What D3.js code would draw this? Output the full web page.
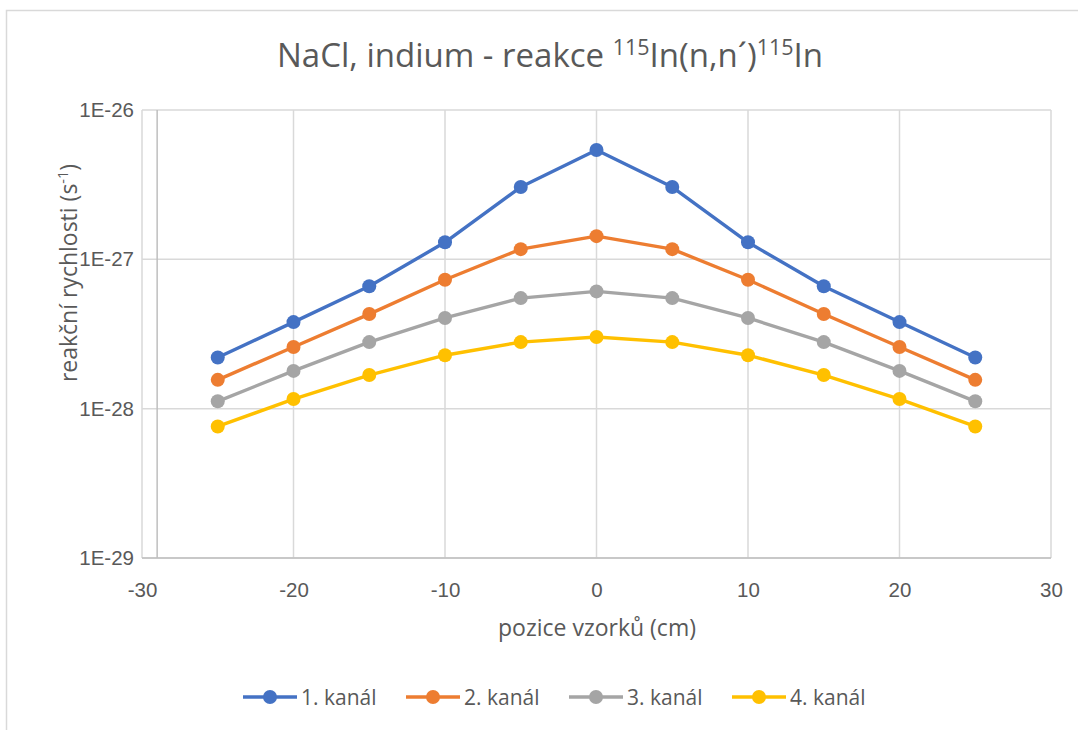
<!DOCTYPE html>
<html>
<head>
<meta charset="utf-8">
<script src="https://cdn.jsdelivr.net/npm/d3@7"></script>
<style>
  html, body { margin: 0; padding: 0; background: #fff; }
  svg { display: block; font-family: "Open Sans", "Noto Sans", sans-serif; }
</style>
</head>
<body>
<svg id="chart" width="1078" height="730"></svg>
<script>
// Sample positions (cm)
const positions = [-25, -20, -15, -10, -5, 0, 5, 10, 15, 20, 25];

// Reaction rates per channel (s^-1)
const kanal1 = [2.2e-28, 3.8e-28, 6.6e-28, 1.3e-27, 3.05e-27, 5.4e-27, 3.05e-27, 1.3e-27, 6.6e-28, 3.8e-28, 2.2e-28];
const kanal2 = [1.56e-28, 2.59e-28, 4.3e-28, 7.3e-28, 1.17e-27, 1.43e-27, 1.17e-27, 7.3e-28, 4.3e-28, 2.59e-28, 1.56e-28];
const kanal3 = [1.12e-28, 1.79e-28, 2.79e-28, 4.05e-28, 5.5e-28, 6.1e-28, 5.5e-28, 4.05e-28, 2.79e-28, 1.79e-28, 1.12e-28];
const kanal4 = [7.6e-29, 1.16e-28, 1.68e-28, 2.28e-28, 2.79e-28, 3.02e-28, 2.79e-28, 2.28e-28, 1.68e-28, 1.16e-28, 7.6e-29];

const seriesNames = ["1. kanál", "2. kanál", "3. kanál", "4. kanál"];
const seriesColors = ["#4472C4", "#ED7D31", "#A5A5A5", "#FFC000"];

// Axis ticks
const xTicks = [-30, -20, -10, 0, 10, 20, 30];
const xTickLabels = ["-30", "-20", "-10", "0", "10", "20", "30"];
const yTicks = [1e-26, 1e-27, 1e-28, 1e-29];
const yTickLabels = ["1E-26", "1E-27", "1E-28", "1E-29"];

const series = [kanal1, kanal2, kanal3, kanal4].map((vals, i) => ({
  name: seriesNames[i],
  color: seriesColors[i],
  points: positions.map((p, j) => ({ x: p, y: vals[j] }))
}));

const svg = d3.select("#chart");
const textColor = "#595959";
const gridColor = "#d9d9d9";

// Outer chart border
svg.append("rect")
  .attr("x", 6.5).attr("y", 10.5)
  .attr("width", 1080).attr("height", 730)
  .attr("fill", "none").attr("stroke", "#d9d9d9").attr("stroke-width", 1.5);

const plot = { left: 142, right: 1051, top: 110, bottom: 558 };

const x = d3.scaleLinear().domain([-30, 30]).range([plot.left, plot.right]);
const y = d3.scaleLog().domain([1e-29, 1e-26]).range([plot.bottom, plot.top]);

// Gridlines
const grid = svg.append("g");
grid.selectAll(".hg").data(yTicks).join("line")
  .attr("x1", plot.left).attr("x2", plot.right)
  .attr("y1", d => y(d)).attr("y2", d => y(d))
  .attr("stroke", gridColor).attr("stroke-width", 1.5);
grid.selectAll(".vg").data(xTicks).join("line")
  .attr("x1", d => x(d)).attr("x2", d => x(d))
  .attr("y1", plot.top).attr("y2", plot.bottom)
  .attr("stroke", gridColor).attr("stroke-width", 1.5);

// Value axis line (crosses at -29) and category axis line
svg.append("line")
  .attr("x1", x(-29)).attr("x2", x(-29))
  .attr("y1", plot.top).attr("y2", plot.bottom)
  .attr("stroke", "#bfbfbf").attr("stroke-width", 1.5);
svg.append("line")
  .attr("x1", plot.left).attr("x2", plot.right)
  .attr("y1", plot.bottom).attr("y2", plot.bottom)
  .attr("stroke", "#bfbfbf").attr("stroke-width", 1.5);

// Tick labels via d3 axes
const yAxis = d3.axisLeft(y).tickValues(yTicks)
  .tickFormat((d, i) => yTickLabels[i]).tickSize(0).tickPadding(8);
const gy = svg.append("g").attr("transform", `translate(${plot.left},0)`).call(yAxis);
gy.select(".domain").remove();
gy.selectAll("text").attr("fill", textColor).style("font-size", "20.5px");

const xAxis = d3.axisBottom(x).tickValues(xTicks)
  .tickFormat((d, i) => xTickLabels[i]).tickSize(0).tickPadding(24);
const gx = svg.append("g").attr("transform", `translate(0,${plot.bottom})`).call(xAxis);
gx.select(".domain").remove();
gx.selectAll("text").attr("fill", textColor).style("font-size", "20.5px");

// Series lines and markers
const line = d3.line().x(d => x(d.x)).y(d => y(d.y));
series.forEach(s => {
  svg.append("path").datum(s.points)
    .attr("d", line).attr("fill", "none")
    .attr("stroke", s.color).attr("stroke-width", 3.4)
    .attr("stroke-linejoin", "round");
  svg.append("g").selectAll("circle").data(s.points).join("circle")
    .attr("cx", d => x(d.x)).attr("cy", d => y(d.y)).attr("r", 7)
    .attr("fill", s.color);
});

// Title
const title = svg.append("text")
  .attr("x", 550).attr("y", 67).attr("text-anchor", "middle")
  .attr("fill", textColor).style("font-size", "33px");
title.append("tspan").text("NaCl, indium - reakce ");
title.append("tspan").attr("dy", -12).style("font-size", "21.5px").text("115");
title.append("tspan").attr("dy", 12).text("In(n,n´)");
title.append("tspan").attr("dy", -12).style("font-size", "21.5px").text("115");
title.append("tspan").attr("dy", 12).text("In");

// Axis titles
const yTitle = svg.append("text")
  .attr("transform", "translate(77,273) rotate(-90)")
  .attr("text-anchor", "middle").attr("fill", textColor).style("font-size", "23px");
yTitle.append("tspan").text("reakční rychlosti (s");
yTitle.append("tspan").attr("dy", -9).style("font-size", "14.5px").text("-1");
yTitle.append("tspan").attr("dy", 9).text(")");

svg.append("text")
  .attr("x", 597).attr("y", 636).attr("text-anchor", "middle")
  .attr("fill", textColor).style("font-size", "23px")
  .text("pozice vzorků (cm)");

// Legend
const legendX = [243, 406, 569, 732];
const legend = svg.append("g");
series.forEach((s, i) => {
  const g = legend.append("g").attr("transform", `translate(${legendX[i]},697)`);
  g.append("line").attr("x1", 0).attr("x2", 54).attr("y1", 0).attr("y2", 0)
    .attr("stroke", s.color).attr("stroke-width", 3.4);
  g.append("circle").attr("cx", 27).attr("cy", 0).attr("r", 7).attr("fill", s.color);
  g.append("text").attr("x", 58).attr("y", 7.5)
    .attr("fill", textColor).style("font-size", "21px").text(s.name);
});
</script>
</body>
</html>
